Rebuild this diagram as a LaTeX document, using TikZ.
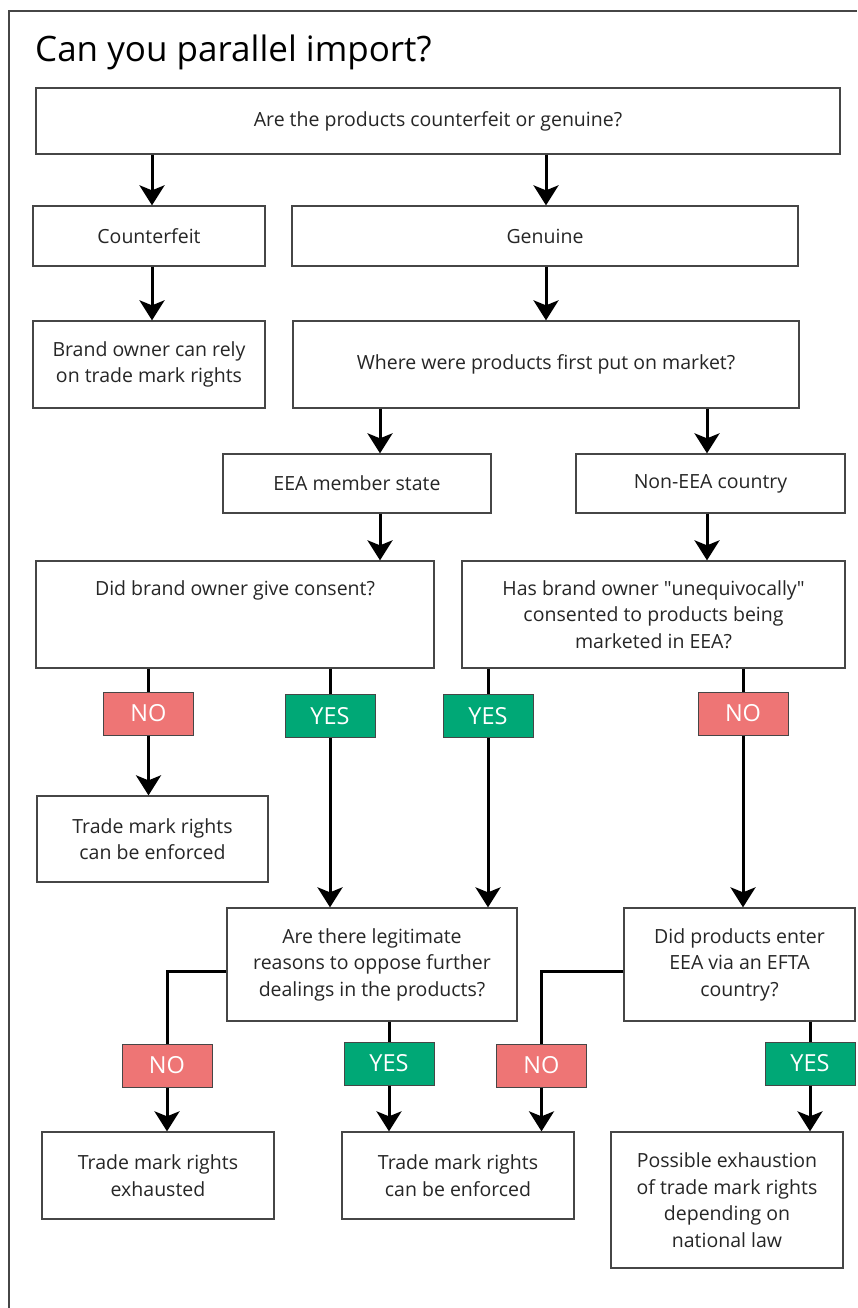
\documentclass[tikz,border=0pt]{standalone}
\usepackage{fontspec}
\setmainfont{Open Sans}
\usetikzlibrary{arrows.meta, calc}
\definecolor{FlowRed}{RGB}{238,117,117}
\definecolor{FlowGreen}{RGB}{0,168,118}
\definecolor{FlowLine}{RGB}{70,70,70}

\begin{document}
\begin{tikzpicture}[x=1pt, y=-1pt,
          box/.style={rectangle, draw=FlowLine, line width=1.3pt, fill=white,
                      font=\fontsize{19.5}{26.5}\selectfont, align=center,
                      inner sep=0pt, text=black!85},
          ans/.style={rectangle, draw=FlowLine, line width=1pt,
                      minimum width=90pt, minimum height=43pt, inner sep=0pt,
                      font=\fontsize{23.5}{24}\selectfont, text=white},
          nobox/.style={ans, fill=FlowRed},
          yesbox/.style={ans, fill=FlowGreen},
          arr/.style={-{Stealth[length=20pt, width=25pt, inset=5pt]}, line width=3pt},
          lin/.style={line width=3pt}
        ]
        \useasboundingbox (0,0) rectangle (857,1308);
        % frame and title
        \draw[FlowLine, line width=1.5pt] (9,1308) -- (9,11) -- (857,11);
        \node[anchor=base west, font=\fontsize{35}{40}\selectfont, inner sep=0pt]
              (title) at (35,62) {Can you parallel import?};

        % first question
        \node[box, minimum width=804pt, minimum height=66pt] (q1) at (438,121)
              {Are the products counterfeit or genuine?};
        \node[box, minimum width=232pt, minimum height=60pt] (cnt) at (149,236) {Counterfeit};
        \node[box, minimum width=506pt, minimum height=60pt] (gen) at (545,236) {Genuine};
        \node[box, minimum width=232pt, minimum height=87pt] (rely) at (149,364.5)
              {Brand owner can rely\\on trade mark rights};
        \node[box, minimum width=506pt, minimum height=87pt] (where) at (546,364.5)
              {Where were products first put on market?};

        % market
        \node[box, minimum width=268pt, minimum height=59pt] (eea) at (357,483.5) {EEA member state};
        \node[box, minimum width=269pt, minimum height=59pt] (neea) at (710.5,483.5) {Non-EEA country};
        \node[box, minimum width=398pt, minimum height=107pt] (cons) at (235,614.5) {};
        \node[font=\fontsize{19.5}{26.5}\selectfont, text=black!85] (constxt) at (235,590)
              {Did brand owner give consent?};
        \node[box, minimum width=383pt, minimum height=107pt] (uneq) at (653.5,614.5)
              {Has brand owner \textquotedbl unequivocally\textquotedbl\\consented to products being\\marketed in EEA?};

        % answers
        \node[nobox]  (no1)  at (148.5,713.5) {NO};
        \node[yesbox] (yes1) at (330,716) {YES};
        \node[yesbox] (yes2) at (488,716) {YES};
        \node[nobox]  (no2)  at (743,713.5) {NO};

        \node[box, minimum width=231pt, minimum height=86pt] (enf1) at (152.5,839)
              {Trade mark rights\\can be enforced};
        \node[box, minimum width=290pt, minimum height=113pt] (legit) at (372,964.5)
              {Are there legitimate\\reasons to oppose further\\dealings in the products?};
        \node[box, minimum width=231pt, minimum height=113pt] (efta) at (739.5,964.5)
              {Did products enter\\EEA via an EFTA\\country?};

        \node[nobox]  (no3)  at (167,1065.5) {NO};
        \node[yesbox] (yes3) at (389,1063.5) {YES};
        \node[nobox]  (no4)  at (541.5,1065.5) {NO};
        \node[yesbox] (yes4) at (810,1063.5) {YES};

        % outcomes
        \node[box, minimum width=232pt, minimum height=87pt] (exh) at (158,1175.5)
              {Trade mark rights\\exhausted};
        \node[box, minimum width=232pt, minimum height=87pt] (enf2) at (458,1175.5)
              {Trade mark rights\\can be enforced};
        \node[box, minimum width=232pt, minimum height=136pt] (poss) at (727,1200)
              {Possible exhaustion\\of trade mark rights\\depending on\\national law};

        % connectors
        \draw[arr] ([xshift=3pt]cnt.north |- q1.south) -- ([xshift=3pt]cnt.north);
        \draw[arr] ([xshift=1pt]gen.north |- q1.south) -- ([xshift=1pt]gen.north);
        \draw[arr] ([xshift=3pt]cnt.south) -- ([xshift=3pt]rely.north -| cnt.south);
        \draw[arr] ([xshift=1pt]gen.south) -- ([xshift=1pt]where.north -| gen.south);
        \draw[arr] ([xshift=23pt]eea.north |- where.south) -- ([xshift=23pt]eea.north);
        \draw[arr] ([xshift=-3.5pt]neea.north |- where.south) -- ([xshift=-3.5pt]neea.north);
        \draw[arr] ([xshift=23pt]eea.south) -- ([xshift=23pt]eea.south |- cons.north);
        \draw[arr] ([xshift=-3.5pt]neea.south) -- ([xshift=-3.5pt]neea.south |- uneq.north);

        \foreach \a/\q in {no1/cons, yes1/cons, yes2/uneq, no2/uneq} {
          \draw[lin] (\a.north |- \q.south) -- (\a.north);
        }
        \draw[arr] (no1.south) -- (no1.south |- enf1.north);
        \draw[arr] (yes1.south) -- (yes1.south |- legit.north);
        \draw[arr] (yes2.south) -- (yes2.south |- legit.north);
        \draw[arr] (no2.south) -- (no2.south |- efta.north);

        \draw[lin] ([yshift=-7pt]legit.west) -| (no3.north);
        \draw[lin] (yes3.north |- legit.south) -- (yes3.north);
        \draw[lin] ([yshift=-7pt]efta.west) -| (no4.north);
        \draw[lin] (yes4.north |- efta.south) -- (yes4.north);
        \draw[arr] (no3.south) -- (no3.south |- exh.north);
        \draw[arr] (yes3.south) -- (yes3.south |- enf2.north);
        \draw[arr] (no4.south) -- (no4.south |- enf2.north);
        \draw[arr] (yes4.south) -- (yes4.south |- poss.north);
      \end{tikzpicture}
\end{document}
